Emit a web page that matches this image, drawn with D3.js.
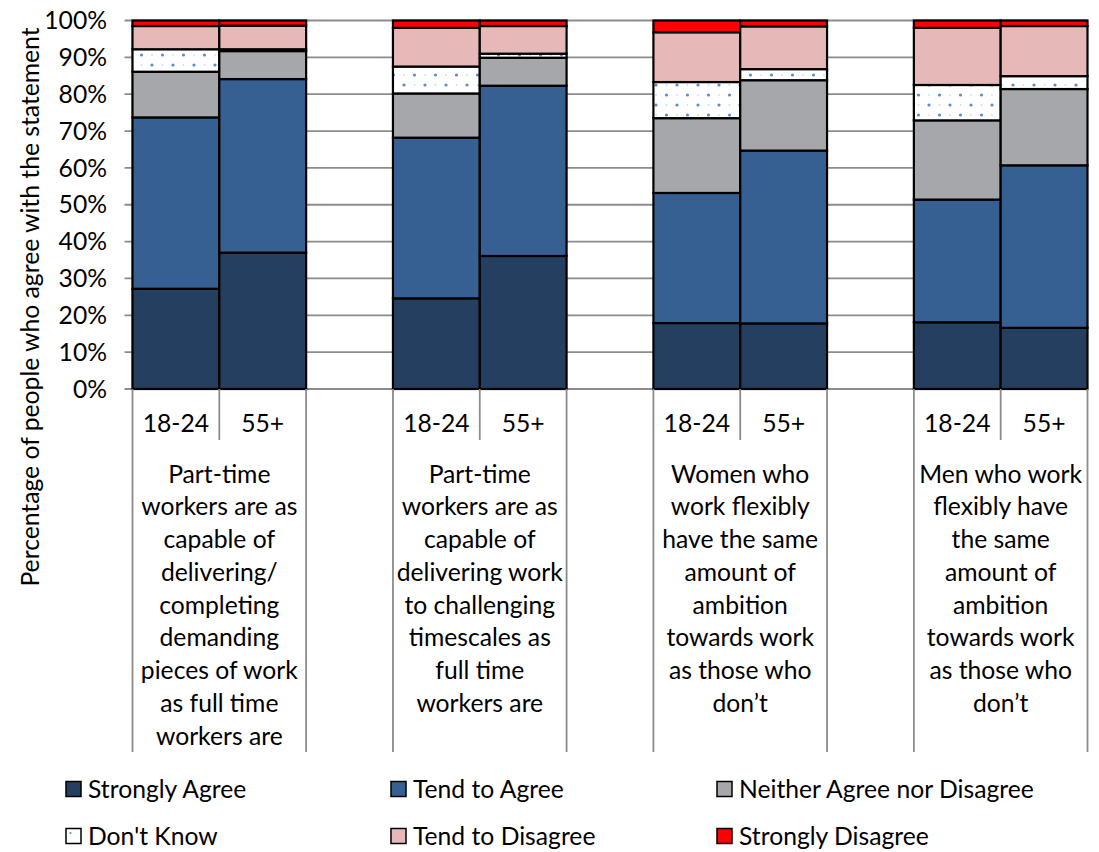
<!DOCTYPE html>
<html><head><meta charset="utf-8">
<script src="https://cdn.jsdelivr.net/npm/d3@7"></script>
<style>html,body{margin:0;padding:0;background:#fff;} text{font-family:Lato,"Open Sans",sans-serif;fill:#000;}</style>
</head><body>
<svg id="c" width="1099" height="852"></svg>
<script>
const groups = [
  ["Part-time","workers are as","capable of","delivering/","completing","demanding","pieces of work","as full time","workers are"],
  ["Part-time","workers are as","capable of","delivering work","to challenging","timescales as","full time","workers are"],
  ["Women who","work flexibly","have the same","amount of","ambition","towards work","as those who","don\u2019t"],
  ["Men who work","flexibly have","the same","amount of","ambition","towards work","as those who","don\u2019t"]
];
const ages = ["18-24","55+"];
const seriesNames = ["Strongly Agree","Tend to Agree","Neither Agree nor Disagree","Don't Know","Tend to Disagree","Strongly Disagree"];
const seriesColors = ["#243F60","#376092","#A6A7AB","url(#dots)","#E6B9B8","#FF0000"];
// bars in order: G1 18-24, G1 55+, G2 18-24, G2 55+, G3 18-24, G3 55+, G4 18-24, G4 55+
const stronglyAgree    = [27.2, 37.0, 24.6, 36.1, 17.9, 17.8, 18.1, 16.6];
const tendToAgree      = [46.5, 47.1, 43.6, 46.2, 35.3, 46.9, 33.3, 44.1];
const neither          = [12.4,  7.6, 12.0,  7.6, 20.3, 19.1, 21.5, 20.7];
const dontKnow         = [ 6.1,  0.5,  7.3,  1.1,  9.8,  3.0,  9.6,  3.5];
const tendToDisagree   = [ 6.3,  6.4, 10.5,  7.5, 13.5, 11.6, 15.5, 13.6];
const stronglyDisagree = [ 1.5,  1.4,  2.0,  1.5,  3.2,  1.6,  2.0,  1.5];
const yTicks = [0,10,20,30,40,50,60,70,80,90,100];

(function(){
const svg = d3.select("#c");
const defs = svg.append("defs");
const pat = defs.append("pattern").attr("id","dots").attr("patternUnits","userSpaceOnUse")
  .attr("width",21).attr("height",20);
pat.append("rect").attr("width",21).attr("height",20).attr("fill","#fff");
pat.append("circle").attr("cx",5).attr("cy",5).attr("r",1.6).attr("fill","#5B8BD3");
pat.append("circle").attr("cx",15.5).attr("cy",15).attr("r",1.6).attr("fill","#5B8BD3");
pat.append("circle").attr("cx",15.5).attr("cy",5).attr("r",0.8).attr("fill","#B5CBEC");
pat.append("circle").attr("cx",5).attr("cy",15).attr("r",0.8).attr("fill","#B5CBEC");

const pLeft = 132.5, pRight = 1087.5, pTop = 20.5, pBottom = 389;
const FS = 24.7;

const slots = [];
groups.forEach((g,gi)=>{ ages.forEach((a,ai)=>slots.push({gi,ai,key:`g${gi}_${ai}`})); if(gi<groups.length-1) slots.push({gap:true,key:`gap${gi}`}); });
const x = d3.scaleBand().domain(slots.map(s=>s.key)).range([pLeft,pRight]).padding(0);
const y = d3.scaleLinear().domain([0,100]).range([pBottom,pTop]);

svg.append("g").selectAll("line").data(yTicks).join("line")
  .attr("x1",pLeft-8).attr("x2",pRight).attr("y1",d=>y(d)).attr("y2",d=>y(d))
  .attr("stroke","#8C8C8C").attr("stroke-width",1.8);
svg.append("line").attr("x1",pLeft).attr("x2",pLeft).attr("y1",pTop).attr("y2",pBottom)
  .attr("stroke","#8C8C8C").attr("stroke-width",1.8);
svg.append("g").selectAll("text").data(yTicks).join("text")
  .attr("x",107).attr("y",d=>y(d)).attr("dy","0.35em").attr("text-anchor","end")
  .style("font-size",FS+"px").text(d=>d+"%");

const barVals = stronglyAgree.map((_,i)=>[stronglyAgree[i],tendToAgree[i],neither[i],dontKnow[i],tendToDisagree[i],stronglyDisagree[i]]);
const barSlots = slots.filter(s=>!s.gap);
const rects = [];
barSlots.forEach((s,bi)=>{
  let acc=0;
  barVals[bi].forEach((v,si)=>{ rects.push({key:s.key,si,y0:acc,y1:acc+v}); acc+=v; });
});
svg.append("g").selectAll("rect").data(rects).join("rect")
  .attr("x",d=>x(d.key)).attr("width",x.bandwidth())
  .attr("y",d=>y(d.y1)).attr("height",d=>y(d.y0)-y(d.y1))
  .attr("fill",d=>seriesColors[d.si]).attr("stroke","#000").attr("stroke-width",2.2);

const xa = svg.append("g").attr("stroke","#8C8C8C").attr("stroke-width",1.8);
groups.forEach((g,gi)=>{
  const k0 = `g${gi}_0`, k1 = `g${gi}_1`;
  const x0 = x(k0), xm = x(k1), x1 = x(k1)+x.bandwidth();
  xa.append("line").attr("x1",x0).attr("x2",x0).attr("y1",pBottom).attr("y2",752);
  xa.append("line").attr("x1",x1).attr("x2",x1).attr("y1",pBottom).attr("y2",752);
  xa.append("line").attr("x1",xm).attr("x2",xm).attr("y1",pBottom).attr("y2",440);
  ages.forEach((a,ai)=>{
    const k = `g${gi}_${ai}`;
    svg.append("text").attr("x",x(k)+x.bandwidth()/2).attr("y",423).attr("dy","0.35em")
      .attr("text-anchor","middle").style("font-size",FS+"px").text(a);
  });
  const t = svg.append("text").attr("text-anchor","middle").style("font-size",FS+"px");
  g.forEach((line,li)=>t.append("tspan").attr("x",(x0+x1)/2).attr("y",474+li*32.75).attr("dy","0.35em").text(line));
});

svg.append("text").attr("transform","translate(30,307) rotate(-90)").attr("text-anchor","middle")
  .attr("dy","0.35em").style("font-size",FS+"px").text("Percentage of people who agree with the statement");

const legX = [66, 391, 717], legY = [789, 836];
seriesNames.forEach((n,i)=>{
  const lx = legX[i%3], ly = legY[Math.floor(i/3)];
  svg.append("rect").attr("x",lx).attr("y",ly-7.5).attr("width",15).attr("height",15)
    .attr("fill",seriesColors[i]==="url(#dots)"?"#fff":seriesColors[i]).attr("stroke","#000").attr("stroke-width",1.5);
  if(i===3) svg.append("circle").attr("cx",lx+4.5).attr("cy",ly-3).attr("r",1.1).attr("fill","#5B8BD3");
  svg.append("text").attr("x",lx+22).attr("y",ly).attr("dy","0.35em").style("font-size",FS+"px").text(n);
});
})();
</script>
</body></html>
